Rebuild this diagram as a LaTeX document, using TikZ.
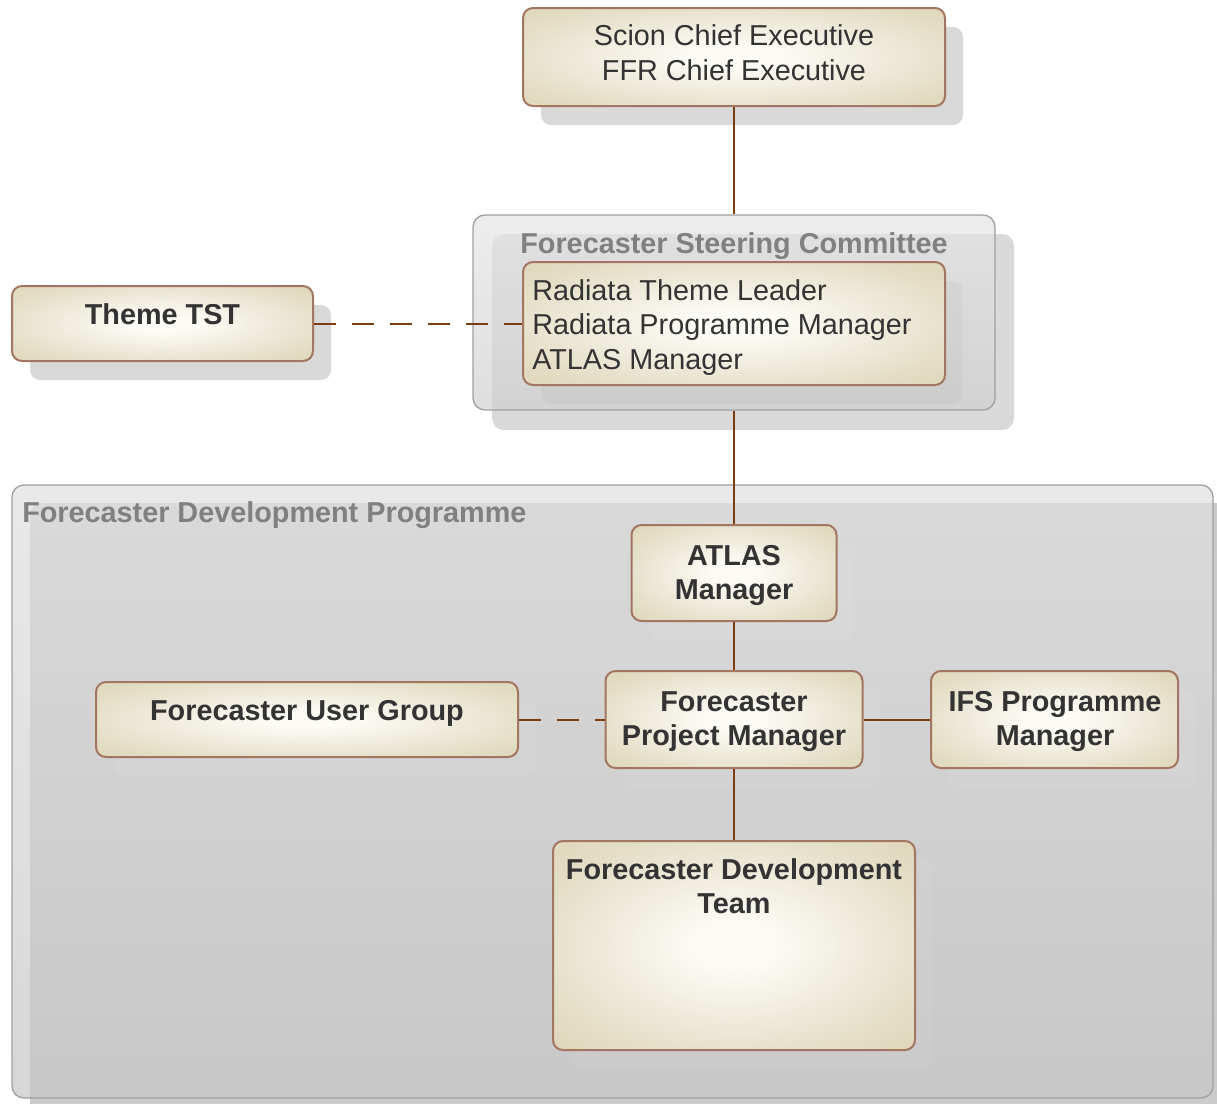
\documentclass[tikz,border=0pt]{standalone}
\usepackage{fontspec}
\setmainfont{Liberation Sans}
\definecolor{boxc}{HTML}{FCFBF6}
\definecolor{boxm}{HTML}{E4DEC6}
\definecolor{boxe}{HTML}{D3C9A5}
\definecolor{boxline}{HTML}{A27660}
\definecolor{conncol}{HTML}{7A3D12}
\definecolor{txt}{HTML}{333333}
\definecolor{grtxt}{HTML}{808080}
\definecolor{shad}{HTML}{D9D9D9}
\definecolor{devshad}{HTML}{CBCBCB}
\definecolor{cborder}{HTML}{A0A0A0}
\pgfdeclareradialshading{boxsh}{\pgfpoint{0bp}{0bp}}{color(0bp)=(boxc); color(5bp)=(boxc); color(28bp)=(boxm); color(50bp)=(boxe)}
\tikzset{
  box/.style={draw=boxline, line width=1.5pt, rounded corners=7.5pt, shade, shading=boxsh, inner sep=0pt},
  container/.style={draw=cborder, line width=1pt, rounded corners=9pt, inner sep=0pt, fill opacity=0.72},
  lbl/.style={inner sep=0pt, text depth=0pt, text=txt, font=\fontsize{21.6}{26}\selectfont, align=center},
  blbl/.style={lbl, font=\fontsize{21.6}{26}\selectfont\bfseries},
  gtitle/.style={inner sep=0pt, text depth=0pt, text=grtxt, font=\fontsize{21.6}{26}\selectfont\bfseries},
  conn/.style={draw=conncol, line width=1.5pt},
  dconn/.style={conn, dash pattern=on 16.5pt off 12pt},
}
\begin{document}
\begin{tikzpicture}[x=0.75pt,y=-0.75pt]
\useasboundingbox (0,0) rectangle (1217,1103);
% development programme container
\fill[devshad, rounded corners=9pt] (30,503) rectangle (1231,1121);
\node[container, top color=white!88!black, bottom color=white!78!black, minimum width=1201*0.75pt, minimum height=613*0.75pt] (fdp) at (612.5,791.5) {};
\node[gtitle, anchor=west] (fdpt) at (22,512) {Forecaster Development Programme};
% steering committee container
\fill[shad, rounded corners=9pt] (492,234) rectangle (1014,430);
\node[container, top color=white!90!black, bottom color=white!82!black, minimum width=522*0.75pt, minimum height=195*0.75pt] (scc) at (734,312.5) {};
\node[gtitle] (scct) at (734,243) {Forecaster Steering Committee};
% box shadows
\fill[shad, rounded corners=7.5pt] (541,27) rectangle (963,125);
\fill[shad, rounded corners=7.5pt] (30,305) rectangle (331,380);
\fill[black, opacity=0.03, rounded corners=7.5pt] (541,281) rectangle (963,404);
\begin{scope}[fill=white, opacity=0.05, rounded corners=7.5pt]
\fill (649,544) rectangle (854,640);
\fill (623,690) rectangle (880,787);
\fill (114,701) rectangle (536,776);
\fill (949,690) rectangle (1196,787);
\fill (571,860) rectangle (933,1069);
\end{scope}
% boxes
\node[box, minimum width=422*0.75pt, minimum height=98*0.75pt] (top) at (734,57) {};
\node[box, minimum width=422*0.75pt, minimum height=123*0.75pt] (sci) at (734,323.5) {};
\node[box, minimum width=301*0.75pt, minimum height=75*0.75pt] (theme) at (162.5,323.5) {};
\node[box, minimum width=205*0.75pt, minimum height=96*0.75pt] (atlas) at (734,573) {};
\node[box, minimum width=257*0.75pt, minimum height=97*0.75pt] (fpm) at (734,719.5) {};
\node[box, minimum width=422*0.75pt, minimum height=75*0.75pt] (fug) at (307,719.5) {};
\node[box, minimum width=247*0.75pt, minimum height=97*0.75pt] (ifs) at (1054.5,719.5) {};
\node[box, minimum width=362*0.75pt, minimum height=209*0.75pt] (team) at (734,945.5) {};
% texts
\node[lbl] (toptxt) at (734,52.5) {Scion Chief Executive\\FFR Chief Executive};
\node[lbl, anchor=west, align=left] (scitxt) at (532,324.5) {Radiata Theme Leader\\Radiata Programme Manager\\ATLAS Manager};
\node[blbl] (themetxt) at (162.5,314) {Theme TST};
\node[blbl] (atlastxt) at (734,572.5) {ATLAS\\Manager};
\node[blbl] (fpmtxt) at (734,718.5) {Forecaster\\Project Manager};
\node[blbl] (fugtxt) at (307,710) {Forecaster User Group};
\node[blbl] (ifstxt) at (1055,718.5) {IFS Programme\\Manager};
\node[blbl] (teamtxt) at (734,886) {Forecaster Development\\Team};
% connectors
\draw[conn] (top.south) -- (scc.north);
\draw[conn] (scc.south) -- (atlas.north);
\draw[conn] (atlas.south) -- (fpm.north);
\draw[conn] (fpm.south) -- (team.north);
\draw[conn] (fpm.east) -- (ifs.west);
\draw[dconn] (fug.east) -- (fpm.west);
\draw[dconn] (theme.east) -- (sci.west);
\end{tikzpicture}
\end{document}
